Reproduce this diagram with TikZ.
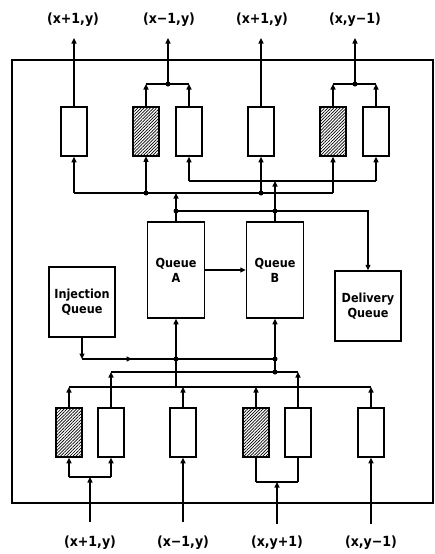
\documentclass[tikz,border=0pt]{standalone}
\usepackage{fontspec}
\setmainfont{DejaVu Sans Condensed}
\usetikzlibrary{arrows.meta,patterns.meta,decorations.markings}
\begin{document}
\begin{tikzpicture}[x=1pt,y=-1pt,
  conn/.style={line width=1.1pt},
  arr/.style={conn,-{Triangle[length=5.5pt,width=5pt]}},
  small/.style={draw,line width=1.5pt,minimum width=26pt,minimum height=49pt,inner sep=0pt},
  hatch/.style={small,pattern={Lines[angle=45,distance=2.2pt,line width=0.7pt]}},
  queue/.style={draw,line width=1.5pt,inner sep=0pt,align=center,font=\bfseries\fontsize{12.5}{15}\selectfont},
  lab/.style={font=\bfseries\fontsize{14}{16}\selectfont},
  dot/.style={circle,fill,inner sep=0pt,minimum size=5pt},
  midarr/.style={postaction={decorate},decoration={markings,mark=at position 50pt with {\arrow{Triangle[length=5.5pt,width=5pt]}}}}
]
\useasboundingbox (0,0) rectangle (435,554);
% frame
\draw[line width=1.6pt] (12,60) rectangle (433,503);

% top labels
\node[lab] (u1) at (73,20) {(x+1,y)};
\node[lab] (u2) at (169,20) {(x−1,y)};
\node[lab] (u3) at (262,20) {(x+1,y)};
\node[lab] (u4) at (355,20) {(x,y−1)};
% bottom labels
\node[lab] (d1) at (90,543) {(x+1,y)};
\node[lab] (d2) at (183,543) {(x−1,y)};
\node[lab] (d3) at (277,543) {(x,y+1)};
\node[lab] (d4) at (371,543) {(x,y−1)};

% top boxes
\node[small] (t1) at (74,131.5) {};
\node[hatch] (t2) at (146,131.5) {};
\node[small] (t3) at (189,131.5) {};
\node[small] (t4) at (261,131.5) {};
\node[hatch] (t5) at (333,131.5) {};
\node[small] (t6) at (376,131.5) {};

% bottom boxes
\node[hatch] (b1) at (69,432.5) {};
\node[small] (b2) at (111,432.5) {};
\node[small] (b3) at (183,432.5) {};
\node[hatch] (b4) at (256,432.5) {};
\node[small] (b5) at (298,432.5) {};
\node[small] (b6) at (371,432.5) {};

% queues
\node[queue,minimum width=57pt,minimum height=96pt] (qa) at (176,270) {Queue\\A};
\node[queue,minimum width=57pt,minimum height=96pt] (qb) at (275,270) {Queue\\B};
\node[queue,minimum width=66pt,minimum height=70pt] (iq) at (82,302) {Injection\\Queue};
\node[queue,minimum width=66pt,minimum height=70pt] (dq) at (368,306) {Delivery\\Queue};

% coordinates
\coordinate (a1) at (74,38);
\coordinate (a2) at (168,38);
\coordinate (a3) at (261,38);
\coordinate (a4) at (355,38);
\coordinate (j1) at (168,84);
\coordinate (j2) at (355,84);
\coordinate (l1) at (0,193);
\coordinate (l2) at (0,181);
\coordinate (l5) at (0,211);
\coordinate (l6) at (0,359);
\coordinate (l3) at (0,387);
\coordinate (l4) at (0,372);
\coordinate (m1) at (90,477);
\coordinate (m2) at (277,482);
\coordinate (s1) at (90,522);
\coordinate (s2) at (183,522);
\coordinate (s3) at (277,524);
\coordinate (s4) at (371,524);

% top outputs
\draw[arr] (t1.north) -- (a1);
\draw[arr] (t4.north) -- (a3);
\draw[conn] (t2.north |- j1) -- (t3.north |- j1);
\draw[arr] (t2.north) -- (t2.north |- j1);
\draw[arr] (t3.north) -- (t3.north |- j1);
\draw[arr] (j1) -- (a2);
\node[dot] (dj1) at (j1) {};
\draw[conn] (t5.north |- j2) -- (t6.north |- j2);
\draw[arr] (t5.north) -- (t5.north |- j2);
\draw[arr] (t6.north) -- (t6.north |- j2);
\draw[arr] (j2) -- (a4);
\node[dot] (dj2) at (j2) {};

% top inputs
\draw[conn] (t1.south |- l1) -- (t5.south |- l1);
\draw[arr] (t1.south |- l1) -- (t1.south);
\draw[arr] (t2.south |- l1) -- (t2.south);
\draw[arr] (t4.south |- l1) -- (t4.south);
\draw[arr] (t5.south |- l1) -- (t5.south);
\node[dot] at (t2.south |- l1) {};
\node[dot] at (t4.south |- l1) {};
\draw[conn] (t3.south |- l2) -- (t6.south |- l2);
\draw[arr] (t3.south |- l2) -- (t3.south);
\draw[arr] (t6.south |- l2) -- (t6.south);
\draw[arr] (qa.north) -- (qa.north |- l1);
\draw[arr] (qb.north) -- (qb.north |- l2);
\draw[arr] (qa.north |- l5) -| (dq.north);
\node[dot] at (qa.north |- l5) {};
\node[dot] at (qb.north |- l5) {};
\draw[arr] (qa.east) -- (qb.west);

% injection
\draw[arr] (iq.south) -- (iq.south |- l6);
\draw[conn,midarr] (iq.south |- l6) -- (qb.south |- l6);
\draw[arr] (qa.south |- l3) -- (qa.south);
\draw[arr] (qb.south |- l4) -- (qb.south);
\node[dot] at (qa.south |- l6) {};
\node[dot] at (qb.south |- l6) {};
\node[dot] at (qb.south |- l4) {};

% bottom outputs
\draw[conn] (b1.north |- l3) -- (b6.north |- l3);
\draw[arr] (b1.north) -- (b1.north |- l3);
\draw[arr] (b3.north) -- (b3.north |- l3);
\draw[arr] (b4.north) -- (b4.north |- l3);
\draw[arr] (b6.north) -- (b6.north |- l3);
\draw[conn] (b2.north |- l4) -- (b5.north |- l4);
\draw[arr] (b2.north) -- (b2.north |- l4);
\draw[arr] (b5.north) -- (b5.north |- l4);

% bottom inputs
\draw[conn] (b1.south |- m1) -- (b2.south |- m1);
\draw[arr] (b1.south |- m1) -- (b1.south);
\draw[arr] (b2.south |- m1) -- (b2.south);
\draw[arr] (s1) -- (m1);
\draw[arr] (s2) -- (b3.south);
\draw[conn] (b4.south |- m2) -- (b5.south |- m2);
\draw[conn] (b4.south) -- (b4.south |- m2);
\draw[conn] (b5.south) -- (b5.south |- m2);
\draw[arr] (s3) -- (m2);
\draw[arr] (s4) -- (b6.south);
\end{tikzpicture}
\end{document}
